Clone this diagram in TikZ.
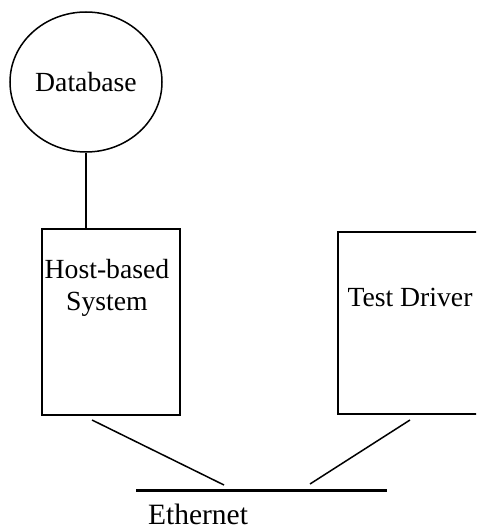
\documentclass[tikz,border=0pt]{standalone}
\usepackage{fontspec}
\setmainfont{Liberation Serif}
\usetikzlibrary{shapes.geometric,calc}
\begin{document}
\begin{tikzpicture}[x=1pt,y=-1pt,
  lbl/.style={inner sep=0pt,font=\fontsize{27.7}{32}\selectfont},
  dbshape/.style={ellipse,draw,line width=1.5pt,minimum width=152pt,minimum height=140pt,inner sep=0pt,font=\fontsize{27.7}{32}\selectfont},
  boxshape/.style={rectangle,draw,line width=2pt,inner sep=0pt},
  link/.style={line width=1.5pt},
  bus/.style={line width=3pt}]
\clip (0,0) rectangle (476,529);
\node[dbshape] (db) at (86,82) {Database};
\node[boxshape,minimum width=138pt,minimum height=186pt] (host) at (111,322) {};
\node[lbl,anchor=base] (hostl1) at (107,278) {Host-based};
\node[lbl,anchor=base] (hostl2) at (107,310) {System};
\node[boxshape,minimum width=140pt,minimum height=182pt] (test) at (408,323) {};
\node[lbl,anchor=base] (testl) at (410,306) {Test Driver};
\coordinate (eL) at (136,490);
\coordinate (eR) at (387,490);
\draw[bus] (eL) -- (eR);
\node[lbl,anchor=base,font=\fontsize{29.5}{34}\selectfont] (eth) at (198,524) {Ethernet};
\draw[link] (db.south) -- (db.south |- host.north);
\draw[link] ($(host.south)+(-19,4)$) -- ($(eL)+(88,-5)$);
\draw[link] ($(test.south)+(2,5)$) -- ($(eL)+(174,-6)$);
\end{tikzpicture}
\end{document}
